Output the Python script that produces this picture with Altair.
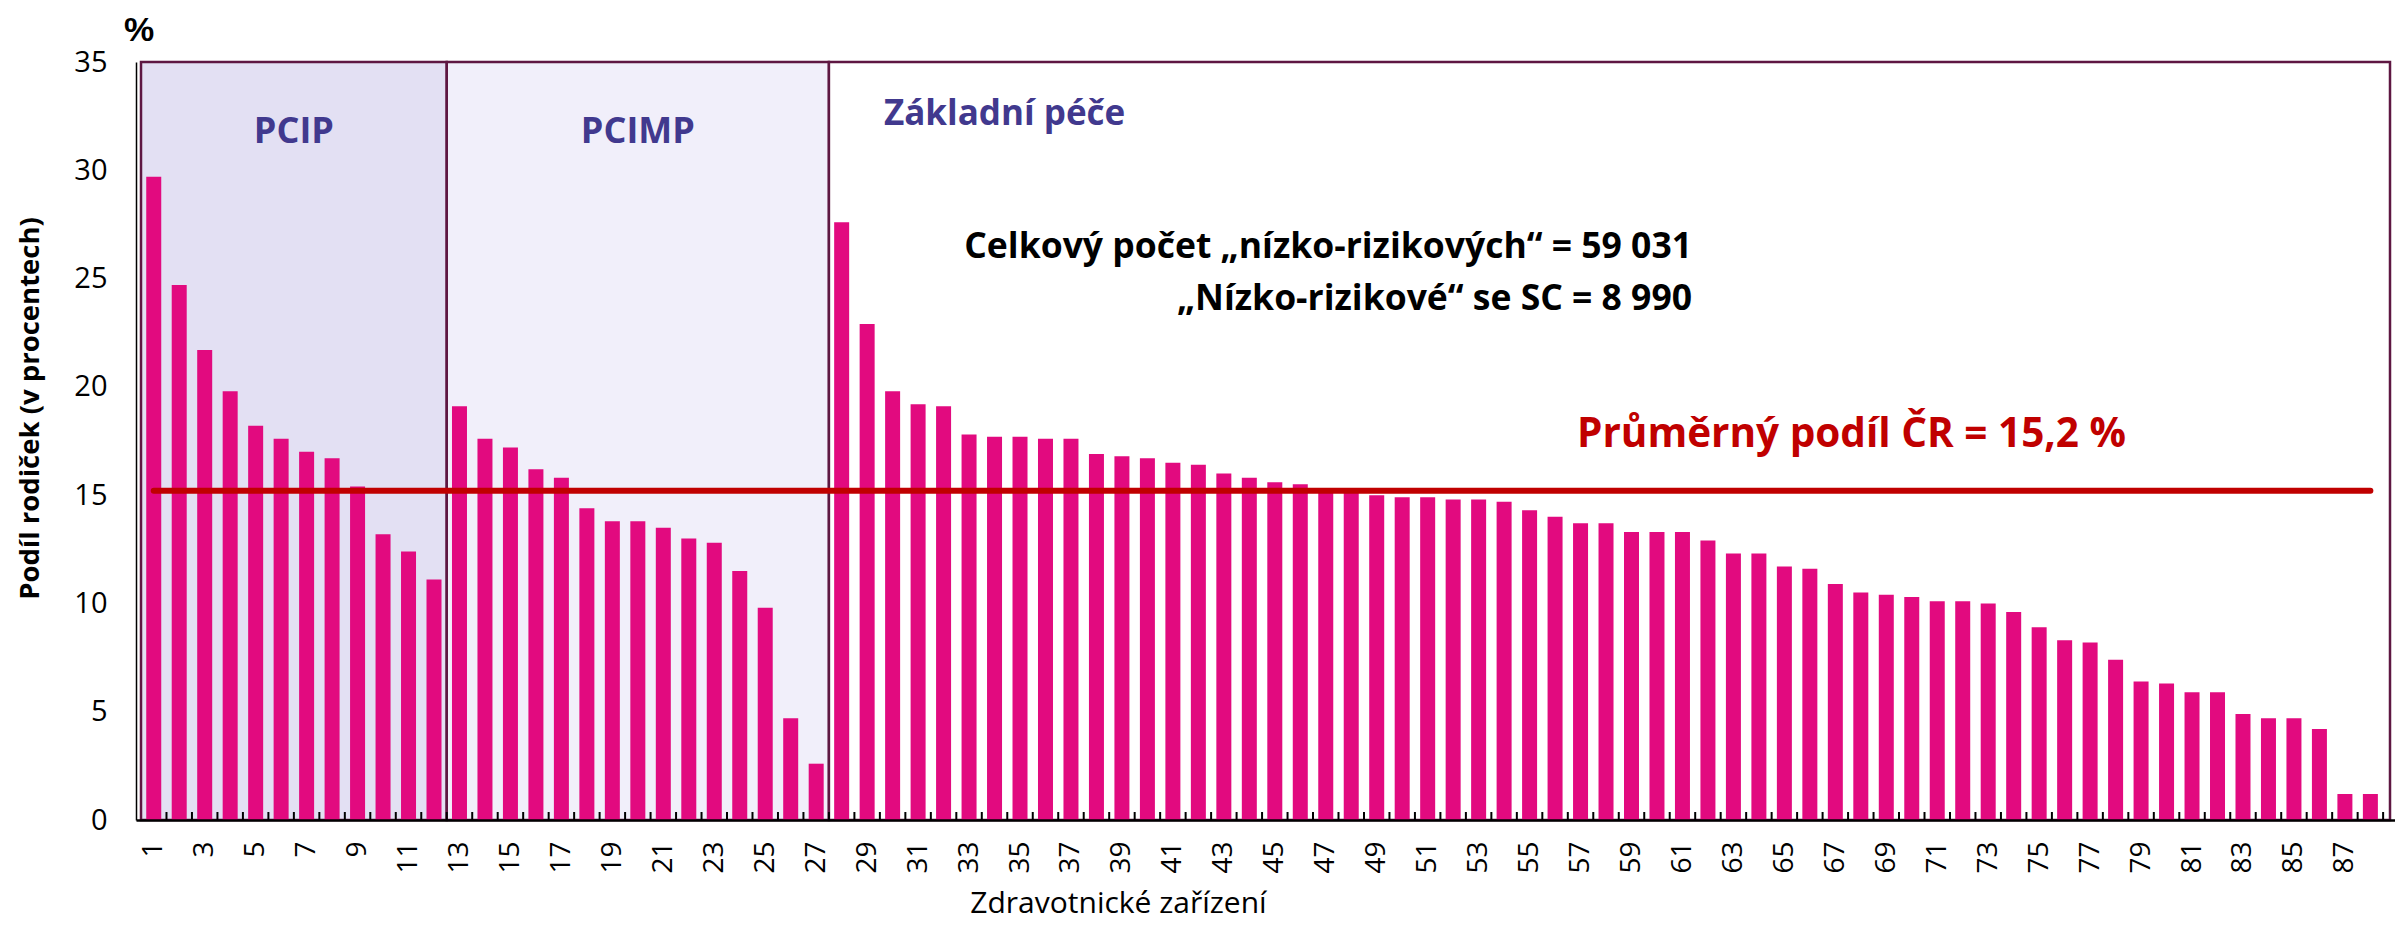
import altair as alt
import pandas as pd

# ---------------- data ----------------
facility = list(range(1, 89))
share = [
    29.7, 24.7, 21.7, 19.8, 18.2, 17.6, 17.0, 16.7, 15.4, 13.2, 12.4, 11.1,
    19.1, 17.6, 17.2, 16.2, 15.8, 14.4, 13.8, 13.8, 13.5, 13.0, 12.8, 11.5, 9.8, 4.7, 2.6,
    27.6, 22.9, 19.8, 19.2, 19.1, 17.8, 17.7, 17.7, 17.6, 17.6, 16.9, 16.8, 16.7, 16.5,
    16.4, 16.0, 15.8, 15.6, 15.5, 15.3, 15.1, 15.0, 14.9, 14.9, 14.8, 14.8, 14.7, 14.3,
    14.0, 13.7, 13.7, 13.3, 13.3, 13.3, 12.9, 12.3, 12.3, 11.7, 11.6, 10.9, 10.5, 10.4,
    10.3, 10.1, 10.1, 10.0, 9.6, 8.9, 8.3, 8.2, 7.4, 6.4, 6.3, 5.9, 5.9, 4.9, 4.7, 4.7,
    4.2, 1.2, 1.2,
]
groups = ["PCIP", "PCIMP", "Základní péče"]
group_sizes = [12, 15, 61]
average = 15.2
y_ticks = [0, 5, 10, 15, 20, 25, 30, 35]
x_tick_labels = list(range(1, 88, 2))
percent_symbol = "%"
info_lines = ["Celkový počet „nízko-rizikových“ = 59 031", "„Nízko-rizikové“ se SC = 8 990"]
avg_label = "Průměrný podíl ČR = 15,2 %"

# ---------------- style ----------------
W, H = 2259, 758
XMAX = 88.77
FONT = "Open Sans"
BAR = "#E20A7F"
PLUM = "#5E1742"
PURPLE = "#41398E"
RED = "#C00000"
fills = ["#E3E0F3", "#F1EFFA", "#FFFFFF"]

df = pd.DataFrame({"facility": facility, "share": share})

starts, ends = [], []
c = 0
for n in group_sizes:
    starts.append(c + 0.5)
    c += n
    ends.append(c + 0.5)
ends[-1] = XMAX
regions = pd.DataFrame({"group": groups, "start": starts, "end": ends})
regions["mid"] = (regions["start"] + regions["end"]) / 2

bounds = pd.DataFrame({"b": [f + 0.5 for f in facility]})
avg_df = pd.DataFrame({"x": [facility[0]], "x2": [facility[-1]], "y": [average]})

xscale = alt.Scale(domain=[0.5, XMAX], nice=False, zero=False)
yscale = alt.Scale(domain=[0, 35], nice=False)

rects = alt.Chart(regions).mark_rect(stroke=PLUM, strokeWidth=2.5).encode(
    x=alt.X("start:Q", scale=xscale),
    x2="end:Q",
    y=alt.value(0),
    y2=alt.value(H),
    color=alt.Color("group:N", scale=alt.Scale(domain=groups, range=fills), legend=None),
)

bars = alt.Chart(df).mark_bar(size=15, color=BAR).encode(
    x=alt.X(
        "facility:Q",
        scale=xscale,
        axis=alt.Axis(
            values=x_tick_labels, format="d", labelAngle=270, labelFontSize=28,
            labelFont=FONT, labelColor="black", labelPadding=21, labelFlush=False,
            labelOverlap=False, ticks=False, tickSize=0, grid=False,
            domainColor="black", domainWidth=2.5, zindex=2,
            title="Zdravotnické zařízení", titleFont=FONT, titleFontSize=30,
            titleFontWeight="normal", titleColor="black", titleX=982, titleY=92,
            titleAlign="center", titleBaseline="alphabetic",
        ),
    ),
    y=alt.Y(
        "share:Q",
        scale=yscale,
        axis=alt.Axis(
            values=y_ticks, labelFontSize=29, labelFont=FONT, labelColor="black",
            labelPadding=29, ticks=False, tickSize=0, grid=False,
            domainColor="black", domainWidth=1.5, zindex=2,
            title="Podíl rodiček (v procentech)", titleFont=FONT, titleFontSize=27.5,
            titleFontWeight="bold", titleColor="black", titleAngle=270,
            titleX=-106, titleY=346, titleAlign="center", titleBaseline="middle",
        ),
    ),
)

ticks = alt.Chart(bounds).mark_rule(color="black", strokeWidth=2).encode(
    x=alt.X("b:Q", scale=xscale),
    y=alt.value(H),
    y2=alt.value(H - 8),
)

avg_line = alt.Chart(avg_df).mark_rule(color=RED, strokeWidth=6, strokeCap="round").encode(
    x=alt.X("x:Q", scale=xscale),
    x2="x2:Q",
    y=alt.Y("y:Q", scale=yscale),
)

pct = alt.Chart(pd.DataFrame({"t": [percent_symbol]})).mark_text(
    font="Liberation Sans", fontSize=34, fontWeight="bold", color="black",
    align="center", baseline="alphabetic"
).encode(text="t:N", x=alt.value(3), y=alt.value(-21))

region_lbl = alt.Chart(regions.iloc[:2]).mark_text(
    font=FONT, fontSize=36, fontWeight="bold", color=PURPLE, align="center", baseline="alphabetic"
).encode(text="group:N", x=alt.X("mid:Q", scale=xscale), y=alt.value(81))

region_lbl3 = alt.Chart(regions.iloc[2:]).mark_text(
    font=FONT, fontSize=35, fontWeight="bold", color=PURPLE, align="left", baseline="alphabetic", dx=55
).encode(text="group:N", x=alt.X("start:Q", scale=xscale), y=alt.value(63))

info1 = alt.Chart(pd.DataFrame({"t": [info_lines[0]]})).mark_text(
    font=FONT, fontSize=35.5, fontWeight="bold", color="black", align="right", baseline="alphabetic"
).encode(text="t:N", x=alt.value(1556), y=alt.value(196))

info2 = alt.Chart(pd.DataFrame({"t": [info_lines[1]]})).mark_text(
    font=FONT, fontSize=35.5, fontWeight="bold", color="black", align="right", baseline="alphabetic"
).encode(text="t:N", x=alt.value(1556), y=alt.value(248))

avg_text = alt.Chart(pd.DataFrame({"t": [avg_label]})).mark_text(
    font=FONT, fontSize=40.5, fontWeight="bold", color=RED, align="right", baseline="alphabetic"
).encode(text="t:N", x=alt.value(1990), y=alt.value(385))

chart = alt.layer(
    rects, bars, avg_line, ticks, pct, region_lbl, region_lbl3, info1, info2, avg_text
).properties(
    width=W,
    height=H,
    autosize=alt.AutoSizeParams(type="none"),
    padding={"left": 128, "top": 54, "right": 0, "bottom": 102},
    background="white",
).configure_view(stroke=None)

chart.save("out.html", embed_options={"renderer": "svg", "actions": False})
